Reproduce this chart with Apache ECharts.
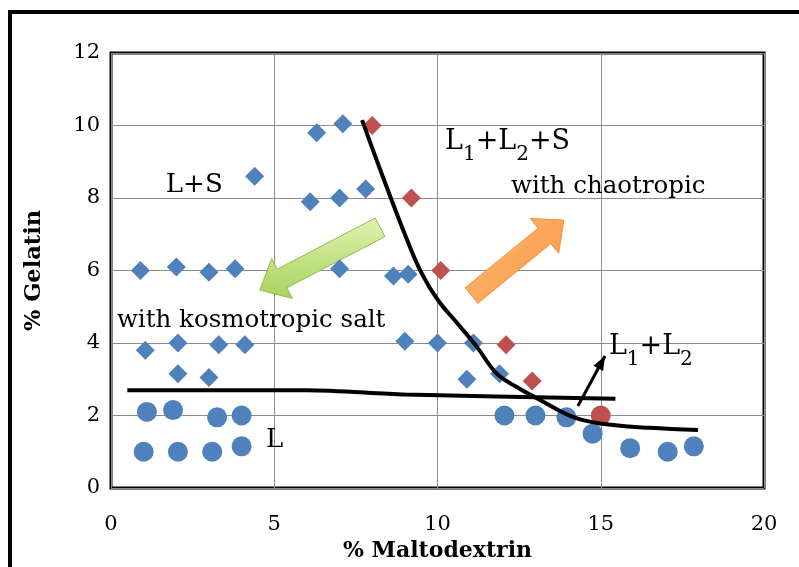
<!DOCTYPE html>
<html>
<head>
<meta charset="utf-8">
<script src="https://cdn.jsdelivr.net/npm/echarts@6/dist/echarts.min.js"></script>
<style>
html, body { margin: 0; padding: 0; background: #fff; }
#chart { width: 799px; height: 567px; }
</style>
</head>
<body>
<div id="chart"></div>
<script>
// L+S points (blue diamonds)
var lsDiamonds = [[0.9, 6.0], [2.0, 6.1], [3.0, 5.95], [3.8, 6.05], [1.05, 3.8], [2.05, 4.0], [3.3, 3.95], [4.1, 3.95],
    [2.05, 3.15], [3.0, 3.05], [4.4, 8.6], [6.1, 7.9], [7.0, 8.0], [7.8, 8.25], [6.3, 9.8], [7.1, 10.05], [7.0, 6.05],
    [8.65, 5.85], [9.1, 5.9], [9.0, 4.05], [10.0, 4.0], [11.1, 4.0], [10.9, 3.0], [11.9, 3.15]];
// L1+L2+S points (red diamonds)
var l1l2sDiamonds = [[8.0, 10.0], [9.2, 8.0], [10.1, 6.0], [12.1, 3.95], [12.9, 2.95]];
// L points (blue circles)
var lCircles = [[1.1, 2.1], [1.9, 2.15], [3.25, 1.95], [4.0, 2.0], [1.0, 1.0], [2.05, 1.0], [3.1, 1.0], [4.0, 1.15],
    [12.05, 2.0], [13.0, 2.0], [13.95, 1.95], [14.75, 1.5], [15.9, 1.1], [17.05, 1.0], [17.85, 1.15]];
// L1+L2 points (red circle)
var l1l2Circles = [[15.0, 2.0]];
// hand drawn phase boundaries
var curveBoundary = [[7.69, 10.15], [8.3, 8.65], [9.07, 6.84], [9.5, 5.95], [10.0, 5.2], [10.6, 4.55],
    [11.2, 3.9], [11.8, 3.17], [12.4, 2.8], [13.14, 2.43], [14.15, 1.96], [14.98, 1.78], [16.5, 1.66], [17.98, 1.6]];
var flatBoundary = [[0.5, 2.7], [6.0, 2.7], [9.0, 2.58], [15.45, 2.46]];

var blue = '#4F81BD';
var red = '#C0504D';
var serif = 'DejaVu Serif';

var chart = echarts.init(document.getElementById('chart'));

var option = {
    backgroundColor: '#fff',
    animation: false,
    grid: {
        left: 111,
        right: 35,
        top: 53,
        bottom: 79,
        outerBoundsMode: 'none',
        show: true,
        borderColor: '#000',
        borderWidth: 3
    },
    xAxis: {
        type: 'value',
        min: 0,
        max: 20,
        interval: 5,
        name: '% Maltodextrin',
        nameLocation: 'middle',
        nameGap: 49,
        nameTextStyle: { fontFamily: serif, fontWeight: 'bold', fontSize: 22, color: '#000' },
        axisLine: { show: false },
        axisTick: { show: false },
        axisLabel: { margin: 26, fontFamily: serif, fontSize: 21, color: '#000' },
        splitLine: { lineStyle: { color: '#8c8c8c', width: 1 } }
    },
    yAxis: {
        type: 'value',
        min: 0,
        max: 12,
        interval: 2,
        name: '% Gelatin',
        nameLocation: 'middle',
        nameGap: 65,
        nameTextStyle: { fontFamily: serif, fontWeight: 'bold', fontSize: 22.5, color: '#000' },
        axisLine: { show: false },
        axisTick: { show: false },
        axisLabel: { margin: 11, fontFamily: serif, fontSize: 21, color: '#000' },
        splitLine: { lineStyle: { color: '#8c8c8c', width: 1 } }
    },
    series: [
        { type: 'scatter', data: lsDiamonds, symbol: 'diamond', symbolSize: 19, itemStyle: { color: blue, opacity: 1 } },
        { type: 'scatter', data: l1l2sDiamonds, symbol: 'diamond', symbolSize: 19, itemStyle: { color: red, opacity: 1 } },
        { type: 'scatter', data: lCircles, symbol: 'circle', symbolSize: 20, itemStyle: { color: blue, opacity: 1 } },
        { type: 'scatter', data: l1l2Circles, symbol: 'circle', symbolSize: 20, itemStyle: { color: red, opacity: 1 } },
        {
            type: 'line', data: curveBoundary, smooth: 0.4, showSymbol: false, z: 4,
            lineStyle: { color: '#000', width: 4 }
        },
        {
            type: 'line', data: flatBoundary, smooth: 0.3, showSymbol: false, z: 4,
            lineStyle: { color: '#000', width: 4 }
        }
    ]
};
chart.setOption(option);

// annotation anchors in data units
function px(p) { return chart.convertToPixel({ gridIndex: 0 }, p); }

function blockArrow(tail, tip, shaftW, headW, headL) {
    var dx = tip[0] - tail[0], dy = tip[1] - tail[1];
    var len = Math.sqrt(dx * dx + dy * dy);
    var ux = dx / len, uy = dy / len;
    var nx = -uy, ny = ux;
    var bx = tip[0] - ux * headL, by = tip[1] - uy * headL;
    return [
        [tail[0] + nx * shaftW / 2, tail[1] + ny * shaftW / 2],
        [bx + nx * shaftW / 2, by + ny * shaftW / 2],
        [bx + nx * headW / 2, by + ny * headW / 2],
        tip,
        [bx - nx * headW / 2, by - ny * headW / 2],
        [bx - nx * shaftW / 2, by - ny * shaftW / 2],
        [tail[0] - nx * shaftW / 2, tail[1] - ny * shaftW / 2]
    ];
}

var greenArrow = blockArrow(px([8.24, 7.19]), px([4.56, 5.46]), 21, 45, 25);
var orangeArrow = blockArrow(px([11.04, 5.31]), px([13.87, 7.39]), 20, 45, 25);
var smallTail = px([14.3, 2.26]);
var smallTip = px([15.13, 3.64]);
var smallHead = blockArrow(smallTail, smallTip, 0, 11, 14);

function label(pos, text, size, extra) {
    var p = px(pos);
    return {
        type: 'text', x: p[0], y: p[1], z: 10,
        style: Object.assign({
            text: text, fill: '#000', font: size + 'px "' + serif + '"',
            textAlign: 'left', textVerticalAlign: 'middle'
        }, extra || {})
    };
}

var subRich = {
    n: { fontFamily: serif, fontSize: 27, lineHeight: 30, verticalAlign: 'middle' },
    s: { fontFamily: serif, fontSize: 20, lineHeight: 18, verticalAlign: 'bottom', padding: [0, 0, -8, 0] }
};

chart.setOption({
    graphic: [
        // outer frame
        { type: 'rect', shape: { x: 10, y: 12, width: 900, height: 700 }, style: { fill: null, stroke: '#000', lineWidth: 4 }, z: 10 },
        {
            type: 'polygon', shape: { points: greenArrow }, z: 1,
            style: {
                fill: new echarts.graphic.LinearGradient(0, 0, 0, 1, [
                    { offset: 0, color: '#e0f3b0' }, { offset: 1, color: '#a6d35c' }
                ]),
                stroke: '#98b954', lineWidth: 1
            }
        },
        {
            type: 'polygon', shape: { points: orangeArrow }, z: 1,
            style: {
                fill: new echarts.graphic.LinearGradient(0, 0, 1, 1, [
                    { offset: 0, color: '#fdb870' }, { offset: 1, color: '#f89848' }
                ]),
                stroke: '#f69240', lineWidth: 1
            }
        },
        {
            type: 'line', z: 10,
            shape: { x1: smallTail[0], y1: smallTail[1], x2: smallTip[0], y2: smallTip[1] },
            style: { stroke: '#000', lineWidth: 3 }
        },
        { type: 'polygon', shape: { points: smallHead.slice(2, 5) }, z: 10, style: { fill: '#000' } },
        label([1.68, 8.36], 'L+S', 26),
        label([0.18, 4.63], 'with kosmotropic salt', 24.5),
        label([4.75, 1.32], 'L', 26),
        label([12.25, 8.3], 'with chaotropic', 24.5),
        label([10.23, 9.55], '{n|L}{s|1}{n|+L}{s|2}{n|+S}', 27, { rich: subRich }),
        label([15.25, 3.89], '{n|L}{s|1}{n|+L}{s|2}', 27, { rich: subRich })
    ]
});
</script>
</body>
</html>
